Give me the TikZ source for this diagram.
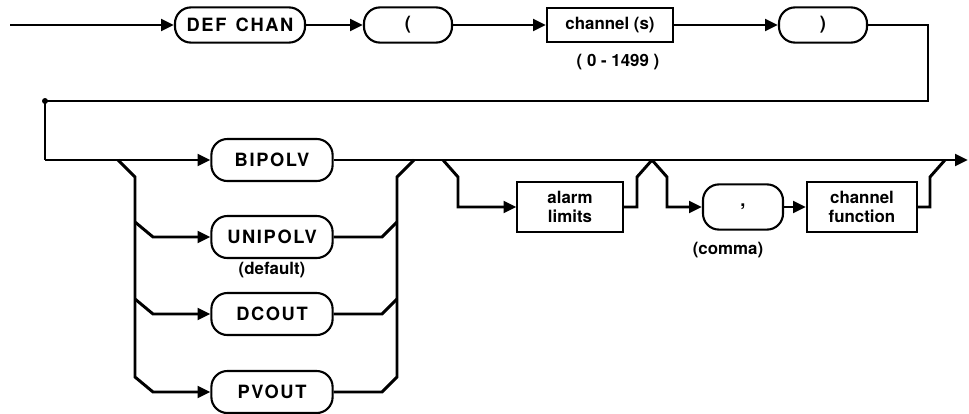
\documentclass[tikz,border=0pt]{standalone}
\usepackage{fontspec}
\setmainfont{TeX Gyre Heros}
\newfontfamily\kwfont[LetterSpace=9]{TeX Gyre Heros}
\usetikzlibrary{arrows.meta}

\begin{document}
\begin{tikzpicture}[x=0.025cm, y=-0.025cm, line width=2.1pt,
  kw/.style={draw, rounded corners=4mm, line width=1.5pt, inner sep=0pt,
    minimum height=0.88cm, font=\fontsize{13}{15}\kwfont\bfseries},
  arg/.style={draw, rectangle, line width=1.5pt, inner sep=0pt, align=center,
    font=\fontsize{12}{13.5}\selectfont\bfseries},
  note/.style={font=\fontsize{12}{13}\selectfont\bfseries},
  arr/.style={-{Triangle[length=3.2mm, width=2.9mm]}}]
\useasboundingbox (0,0) rectangle (969,414);
% first row
\coordinate (start) at (10,25);
\node[kw, minimum width=3.25cm] (defchan) at (240,25) {DEF\hspace{0.5em}CHAN};
\node[kw, minimum width=2.2cm] (lpar) at (408,25) {(};
\node[arg, minimum width=3.15cm, minimum height=0.83cm] (chans) at (610,25) {channel (s)};
\node[note] (range) at (618,62) {( 0 - 1499 )};
\node[kw, minimum width=2.2cm] (rpar) at (823,25) {)};
\coordinate (tr) at (928,25);
\coordinate (br) at (928,101);
\coordinate (bl) at (45,101);
\coordinate (ml) at (45,160);
\draw[arr] (start) -- (defchan);
\draw[arr] (defchan) -- (lpar);
\draw[arr] (lpar) -- (chans);
\draw[arr] (chans) -- (rpar);
\draw (rpar) -- (tr) -- (br) -- (bl) -- (ml);
\fill (bl) circle (3);
% output mode
\node[kw, minimum width=3.03cm, minimum height=1.05cm] (bipolv) at (272,160) {BIPOLV};
\node[kw, minimum width=3.03cm, minimum height=1.05cm] (unipolv) at (272,237) {UNIPOLV};
\node[note] (default) at (272,270) {(default)};
\node[kw, minimum width=3.03cm, minimum height=1.05cm] (dcout) at (272,314) {DCOUT};
\node[kw, minimum width=3.03cm, minimum height=1.05cm] (pvout) at (272,392) {PVOUT};
\coordinate (end) at (968,160);
\draw[arr] (ml) -- (bipolv);
\draw[arr] (bipolv) -- (end);
% left fork
\coordinate (lb0) at (118,160);
\coordinate (lb1) at (135,177);
\coordinate (lb2) at (135,222);
\coordinate (lu) at (153,237);
\coordinate (lb3) at (135,299);
\coordinate (ld) at (153,314);
\coordinate (lb4) at (135,377);
\coordinate (lp) at (153,392);
\draw[arr] (lb0) -- (lb1) -- (lb4) -- (lp) -- (pvout);
\draw[arr] (lb2) -- (lu) -- (unipolv);
\draw[arr] (lb3) -- (ld) -- (dcout);
% right fork
\coordinate (rb0) at (414,160);
\coordinate (rb1) at (397,177);
\coordinate (rb2) at (397,222);
\coordinate (ru) at (382,237);
\coordinate (rb3) at (397,299);
\coordinate (rd) at (382,314);
\coordinate (rb4) at (397,377);
\coordinate (rp) at (382,392);
\draw (pvout) -- (rp) -- (rb4) -- (rb1) -- (rb0);
\draw (unipolv) -- (ru) -- (rb2);
\draw (dcout) -- (rd) -- (rb3);
% alarm limits
\node[arg, minimum width=2.63cm, minimum height=1.23cm] (alarm) at (570,207) {alarm\\limits};
\coordinate (a0) at (443,160);
\coordinate (a1) at (458,177);
\coordinate (a2) at (458,207);
\coordinate (a3) at (637,207);
\coordinate (a4) at (637,177);
\coordinate (a5) at (652,160);
\draw[arr] (a0) -- (a1) -- (a2) -- (alarm);
\draw (alarm) -- (a3) -- (a4) -- (a5);
% channel function
\node[kw, minimum width=2cm, minimum height=1.13cm] (comma) at (743,207) {,};
\node[note] (commalab) at (728,250) {(comma)};
\node[arg, minimum width=2.75cm, minimum height=1.25cm] (chfunc) at (862,207) {channel\\function};
\coordinate (c1) at (667,177);
\coordinate (c2) at (667,207);
\coordinate (f1) at (930,207);
\coordinate (f2) at (930,177);
\coordinate (f3) at (945,160);
\draw[arr] (a5) -- (c1) -- (c2) -- (comma);
\draw[arr] (comma) -- (chfunc);
\draw (chfunc) -- (f1) -- (f2) -- (f3);
\end{tikzpicture}
\end{document}
